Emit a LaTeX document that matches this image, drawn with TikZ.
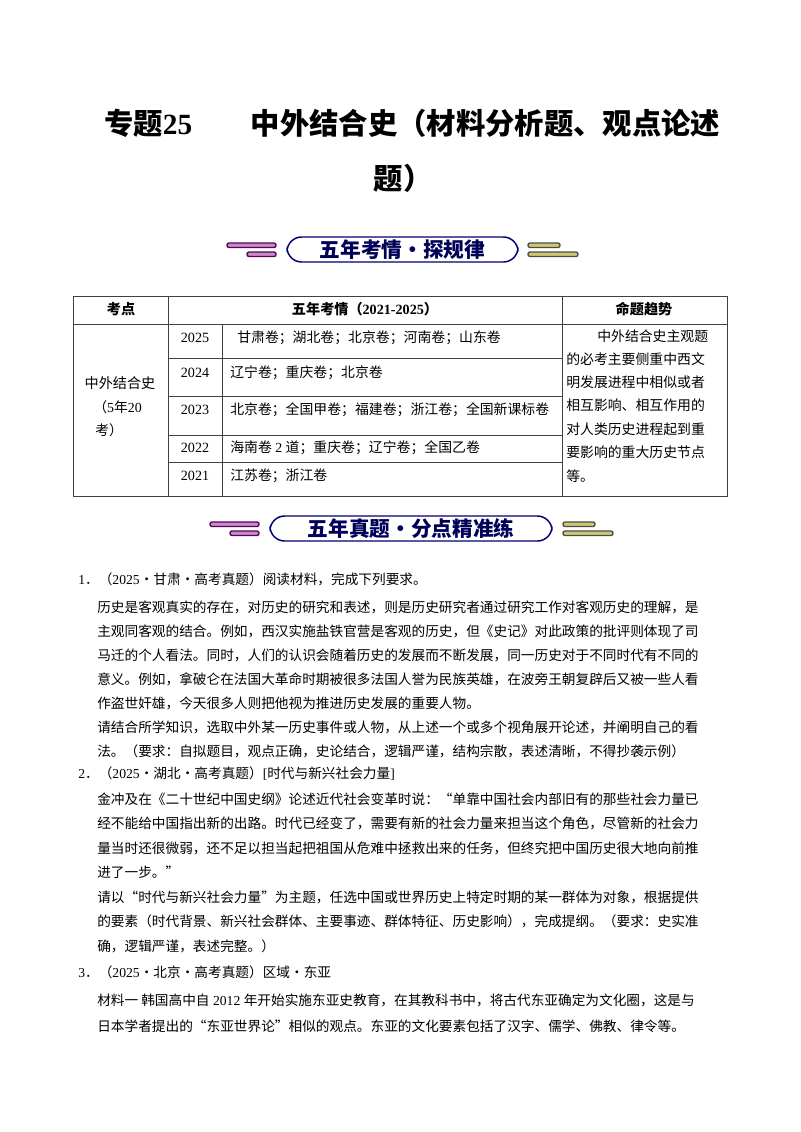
\documentclass[tikz,border=0pt]{standalone}
\usepackage{fontspec}
\setmainfont{Noto Sans CJK SC}
\newfontfamily\numfont{Liberation Serif}
\begin{document}
\begin{tikzpicture}[x=0.75pt,y=-0.75pt,
  body/.style={anchor=west,inner sep=0pt,font=\fontsize{10.25pt}{12pt}\selectfont},
  cell/.style={anchor=west,inner sep=0pt,font=\fontsize{10.4pt}{12pt}\selectfont},
  ccell/.style={inner sep=0pt,font=\fontsize{10.6pt}{12pt}\selectfont},
  hcell/.style={inner sep=0pt,font=\fontsize{10.6pt}{12pt}\selectfont\bfseries},
  grid/.style={line width=0.6pt,black!75},
  bannerbox/.style={draw=blue!45!black,line width=1.1pt,rounded corners=11pt,fill=white,minimum height=25*0.75pt,inner sep=0pt,text=blue!35!black,font=\fontsize{15.5pt}{17pt}\selectfont\bfseries},
  lline/.style={draw=violet!70!black,line width=1pt,fill=violet!45,rounded corners=1.5pt},
  rline/.style={draw=black!70,line width=1pt,fill=olive!45,rounded corners=1.5pt}]
\useasboundingbox (0,0) rectangle (800,1132);
% title
\node[inner sep=0pt,anchor=west,font=\fontsize{22pt}{26pt}\selectfont\bfseries] (t1) at (104,123) {专题{\numfont 25}\hspace{2em}中外结合史（材料分析题、观点论述};
\node[inner sep=0pt,font=\fontsize{22pt}{26pt}\selectfont\bfseries] (t2) at (403,178) {题）};
% banner 1
\node[bannerbox,minimum width=231*0.75pt] (b1) at (402.5,249.5) {五年考情・探规律};
\draw[lline] (227,243) rectangle (276,247.5);
\draw[lline] (247,252) rectangle (276,256.5);
\draw[rline] (528,243) rectangle (560,247.5);
\draw[rline] (528,252) rectangle (578,256.5);
% table
\draw[grid] (73,296) rectangle (727,496);
\draw[grid] (73,324) -- (727,324);
\draw[grid] (168,296) -- (168,496);
\draw[grid] (562,296) -- (562,496);
\draw[grid] (222,324) -- (222,496);
\foreach \yy in {358,396,435,462} \draw[grid] (168,\yy) -- (562,\yy);
\node[hcell] (h1) at (121,309) {考点};
\node[hcell] (h2) at (365,309) {五年考情（{\numfont 2021-2025}）};
\node[hcell] (h3) at (644,309) {命题趋势};
\node[ccell] (k1) at (120,383) {中外结合史};
\node[cell] (k2) at (93,407) {（{\numfont 5}年{\numfont 20}};
\node[cell] (k3) at (95,430) {考）};
\node[ccell] (y1) at (195,338) {\numfont 2025};
\node[ccell] (y2) at (195,373) {\numfont 2024};
\node[ccell] (y3) at (195,410) {\numfont 2023};
\node[ccell] (y4) at (195,448) {\numfont 2022};
\node[ccell] (y5) at (195,476) {\numfont 2021};
\node[cell] (r1) at (237,338) {甘肃卷；湖北卷；北京卷；河南卷；山东卷};
\node[cell] (r2) at (230,373) {辽宁卷；重庆卷；北京卷};
\node[cell] (r3) at (230,410) {北京卷；全国甲卷；福建卷；浙江卷；全国新课标卷};
\node[cell] (r4) at (230,448) {海南卷{\numfont\ 2\ }道；重庆卷；辽宁卷；全国乙卷};
\node[cell] (r5) at (230,476) {江苏卷；浙江卷};
\node[cell] (m1) at (597,336) {中外结合史主观题};
\node[cell] (m2) at (566,359) {的必考主要侧重中西文};
\node[cell] (m3) at (566,382) {明发展进程中相似或者};
\node[cell] (m4) at (566,405) {相互影响、相互作用的};
\node[cell] (m5) at (566,429) {对人类历史进程起到重};
\node[cell] (m6) at (566,452) {要影响的重大历史节点};
\node[cell] (m7) at (566,476) {等。};
% banner 2
\node[bannerbox,minimum width=282*0.75pt] (b2) at (411,528.5) {五年真题・分点精准练};
\draw[lline] (210,522) rectangle (259,526.5);
\draw[lline] (230,531) rectangle (259,535.5);
\draw[rline] (563,522) rectangle (595,526.5);
\draw[rline] (563,531) rectangle (613,535.5);
% questions
\node[body] (q1) at (78,579) {{\numfont 1}．（{\numfont 2025}·甘肃·高考真题）阅读材料，完成下列要求。};
\node[body] (p1) at (97,607) {历史是客观真实的存在，对历史的研究和表述，则是历史研究者通过研究工作对客观历史的理解，是};
\node[body] (p2) at (97,631) {主观同客观的结合。例如，西汉实施盐铁官营是客观的历史，但《史记》对此政策的批评则体现了司};
\node[body] (p3) at (97,655) {马迁的个人看法。同时，人们的认识会随着历史的发展而不断发展，同一历史对于不同时代有不同的};
\node[body] (p4) at (97,679) {意义。例如，拿破仑在法国大革命时期被很多法国人誉为民族英雄，在波旁王朝复辟后又被一些人看};
\node[body] (p5) at (97,703) {作盗世奸雄，今天很多人则把他视为推进历史发展的重要人物。};
\node[body] (p6) at (97,727) {请结合所学知识，选取中外某一历史事件或人物，从上述一个或多个视角展开论述，并阐明自己的看};
\node[body] (p7) at (97,751) {法。（要求：自拟题目，观点正确，史论结合，逻辑严谨，结构宗散，表述清晰，不得抄袭示例）};
\node[body] (q2) at (78,774) {{\numfont 2}．（{\numfont 2025}·湖北·高考真题）{\numfont [}时代与新兴社会力量{\numfont ]}};
\node[body] (s1) at (97,799) {金冲及在《二十世纪中国史纲》论述近代社会变革时说：“单靠中国社会内部旧有的那些社会力量已};
\node[body] (s2) at (97,823) {经不能给中国指出新的出路。时代已经变了，需要有新的社会力量来担当这个角色，尽管新的社会力};
\node[body] (s3) at (97,848) {量当时还很微弱，还不足以担当起把祖国从危难中拯救出来的任务，但终究把中国历史很大地向前推};
\node[body] (s4) at (97,872) {进了一步。”};
\node[body] (s5) at (97,897) {请以“时代与新兴社会力量”为主题，任选中国或世界历史上特定时期的某一群体为对象，根据提供};
\node[body] (s6) at (97,921) {的要素（时代背景、新兴社会群体、主要事迹、群体特征、历史影响），完成提纲。（要求：史实准};
\node[body] (s7) at (97,946) {确，逻辑严谨，表述完整。）};
\node[body] (q3) at (78,972) {{\numfont 3}．（{\numfont 2025}·北京·高考真题）区域·东亚};
\node[body] (u1) at (97,1000) {材料一\ 韩国高中自{\numfont\ 2012\ }年开始实施东亚史教育，在其教科书中，将古代东亚确定为文化圈，这是与};
\node[body] (u2) at (97,1026) {日本学者提出的“东亚世界论”相似的观点。东亚的文化要素包括了汉字、儒学、佛教、律令等。};
\end{tikzpicture}
\end{document}
